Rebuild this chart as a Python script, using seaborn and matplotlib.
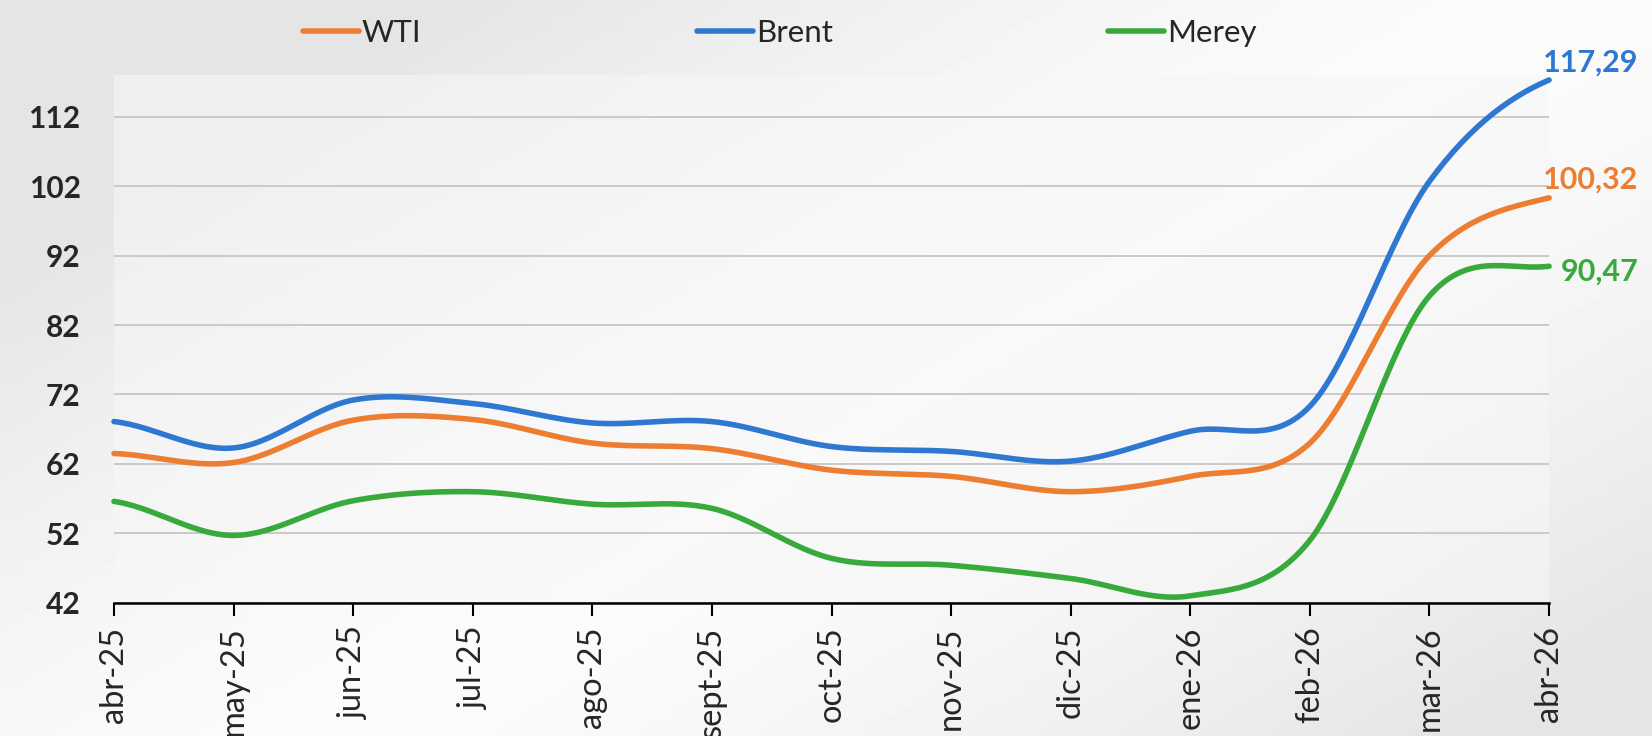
import numpy as np
import pandas as pd
import matplotlib
matplotlib.use('Agg')
import matplotlib.pyplot as plt
import seaborn as sns

# monthly prices
months = ['abr-25', 'may-25', 'jun-25', 'jul-25', 'ago-25', 'sept-25', 'oct-25',
          'nov-25', 'dic-25', 'ene-26', 'feb-26', 'mar-26', 'abr-26']
wti = [63.5, 62.2, 68.3, 68.4, 65.0, 64.2, 61.1, 60.2, 58.0, 60.2, 65.0, 92.0, 100.32]
brent = [68.1, 64.3, 71.2, 70.7, 67.9, 68.1, 64.5, 63.8, 62.4, 66.7, 70.3, 102.7, 117.29]
merey = [56.6, 51.7, 56.7, 58.0, 56.2, 55.6, 48.4, 47.4, 45.5, 43.0, 51.0, 86.2, 90.47]
yticks = [42, 52, 62, 72, 82, 92, 102, 112]

series = {'WTI': wti, 'Brent': brent, 'Merey': merey}
colors = {'WTI': '#ED7D31', 'Brent': '#2E78D2', 'Merey': '#38AA3C'}


def smooth(y, n=30):
    # Excel-style smoothed line (Catmull-Rom through the points)
    y = np.asarray(y, float)
    p = np.concatenate([[y[0]], y, [y[-1]]])
    xs, ys = [], []
    for i in range(len(y) - 1):
        p0, p1, p2, p3 = p[i], p[i + 1], p[i + 2], p[i + 3]
        t = np.linspace(0, 1, n, endpoint=False)
        ys.append(0.5 * (2 * p1 + (-p0 + p2) * t + (2 * p0 - 5 * p1 + 4 * p2 - p3) * t ** 2
                         + (-p0 + 3 * p1 - 3 * p2 + p3) * t ** 3))
        xs.append(i + t)
    xs.append([len(y) - 1])
    ys.append([y[-1]])
    return np.concatenate(xs), np.concatenate(ys)


rows = []
for name, vals in series.items():
    xs, ys = smooth(vals)
    rows.append(pd.DataFrame({'x': xs, 'price': ys, 'serie': name}))
df = pd.concat(rows, ignore_index=True)

sns.set_style('white')
plt.rcParams['font.family'] = ['Lato', 'DejaVu Sans']

fig = plt.figure(figsize=(16.52, 7.36), dpi=100)

# slide-like background gradient
bg = fig.add_axes([0, 0, 1, 1], zorder=-10)
gx, gy = np.meshgrid(np.linspace(0, 1, 300), np.linspace(0, 1, 150))
d = np.abs((gx - 0.62) * 0.8 + (gy - 0.45) * 0.6)
shade = 0.985 - 0.09 * np.clip(d / 0.55, 0, 1) ** 1.5
bg.imshow(shade, cmap='gray', vmin=0, vmax=1, aspect='auto', extent=[0, 1, 0, 1])
bg.axis('off')

ax = fig.add_axes([0.069, 0.181, 0.8687, 0.717])
ax.set_facecolor('#f7f7f7')
ax.patch.set_alpha(0.6)

sns.lineplot(data=df, x='x', y='price', hue='serie', palette=colors,
             linewidth=4.0, sort=False, ax=ax, legend=False)
for line in ax.lines:
    line.set_solid_capstyle('round')
    line.set_clip_on(False)

ax.set_xlim(0, len(months) - 1)
ax.set_ylim(42, 118)
ax.set_xticks(range(len(months)))
ax.set_xticklabels(months, rotation=90, fontsize=23.5)
ax.set_yticks(yticks)
ax.set_yticklabels([str(v) for v in yticks], fontsize=21.5, fontweight='bold')
ax.set_xlabel('')
ax.set_ylabel('')
ax.tick_params(axis='x', length=9, width=1.5, color='black', pad=8, direction='out', bottom=True)
ax.tick_params(axis='y', length=0, pad=24)
ax.yaxis.grid(True, color='#c6c6c6', linewidth=1.3)
ax.set_axisbelow(True)
for s in ['top', 'right', 'left']:
    ax.spines[s].set_visible(False)
ax.spines['bottom'].set_color('black')
ax.spines['bottom'].set_linewidth(1.8)

# end-of-line value labels
last = len(months) - 1
ax.annotate('117,29', (last, brent[-1]), xytext=(-6, 17), textcoords='offset pixels',
            color=colors['Brent'], fontsize=22, fontweight='bold', ha='left', va='center',
            annotation_clip=False)
ax.annotate('100,32', (last, wti[-1]), xytext=(-6, 18), textcoords='offset pixels',
            color=colors['WTI'], fontsize=22, fontweight='bold', ha='left', va='center',
            annotation_clip=False)
ax.annotate('90,47', (last, merey[-1]), xytext=(12, -5), textcoords='offset pixels',
            color=colors['Merey'], fontsize=22, fontweight='bold', ha='left', va='center',
            annotation_clip=False)

handles = [plt.Line2D([], [], color=colors[k], linewidth=4.0, solid_capstyle='round') for k in series]
fig.legend(handles, list(series), loc='center', bbox_to_anchor=(0.472, 0.955), ncol=3,
           frameon=False, fontsize=22.5, handlelength=1.8, handletextpad=0.1, columnspacing=8.8)

fig.savefig('out.png', dpi=100)
